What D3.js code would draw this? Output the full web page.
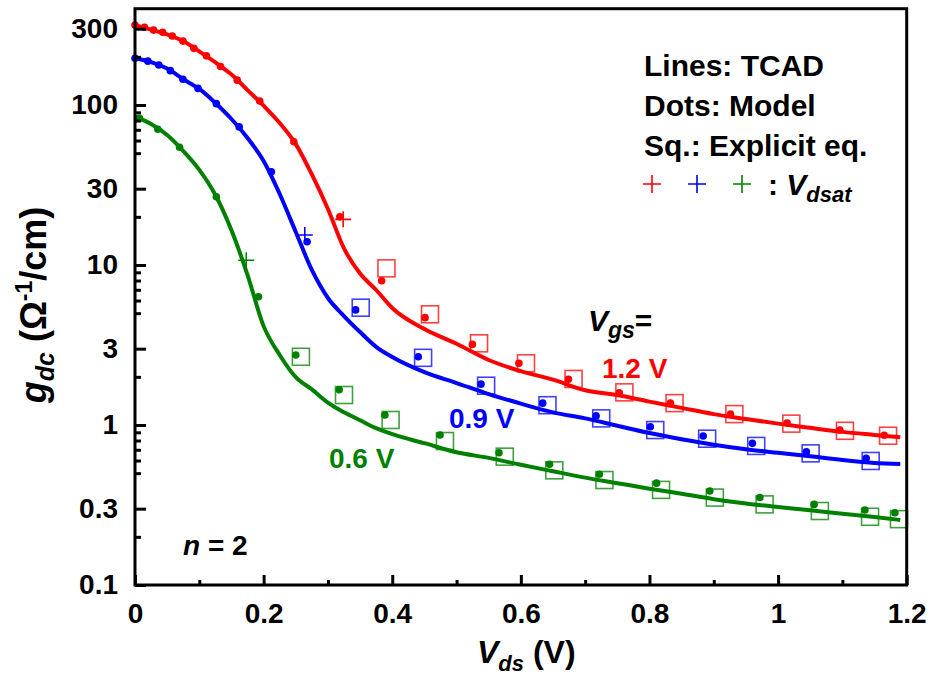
<!DOCTYPE html>
<html><head><meta charset="utf-8">
<script src="https://cdn.jsdelivr.net/npm/d3@7"></script>
<style>html,body{margin:0;padding:0;background:#fff}svg text{font-family:"Liberation Sans",Arial,sans-serif;font-weight:bold}</style>
</head><body>
<svg id="chart" width="933" height="676"></svg>
<script>
// ---------- data ----------
const seriesNames = ["1.2 V", "0.9 V", "0.6 V"];
const seriesColors = ["#ff0000", "#0000ff", "#008000"];

// TCAD lines (shared Vds grid)
const vdsGrid = [0, 0.025, 0.05, 0.075, 0.1, 0.125, 0.15, 0.175, 0.2, 0.225, 0.25, 0.275, 0.3, 0.325, 0.35, 0.375, 0.4, 0.45, 0.5, 0.55, 0.6, 0.65, 0.7, 0.75, 0.8, 0.85, 0.9, 0.95, 1.0, 1.05, 1.1, 1.15, 1.19];
const tcad12 = [316, 296, 276, 251, 216, 184.5, 155, 124, 99, 77.2, 57, 36.8, 22.4, 12.7, 8.84, 6.98, 5.39, 3.98, 3.22, 2.55, 2.17, 1.92, 1.65, 1.54, 1.40, 1.28, 1.17, 1.09, 1.02, 0.96, 0.906, 0.867, 0.838];
const tcad09 = [196, 185.6, 169, 145, 126, 103, 81.8, 62.2, 44.7, 27.8, 16.1, 9.31, 6.22, 4.8, 3.81, 3.08, 2.66, 2.14, 1.83, 1.56, 1.36, 1.20, 1.10, 0.99, 0.891, 0.815, 0.753, 0.705, 0.67, 0.637, 0.604, 0.579, 0.57];
const tcad06 = [84.5, 76, 65, 51.6, 39.3, 27.4, 16.5, 8.66, 4.15, 2.74, 1.99, 1.67, 1.38, 1.20, 1.07, 0.955, 0.876, 0.77, 0.675, 0.623, 0.564, 0.514, 0.469, 0.433, 0.40, 0.372, 0.344, 0.323, 0.307, 0.293, 0.279, 0.266, 0.255];

// Model (dots)
const model12Vds = [0, 0.0148, 0.0288, 0.043, 0.058, 0.0745, 0.0916, 0.111, 0.133, 0.159, 0.194, 0.247, 0.3185, 0.3835, 0.451, 0.5246, 0.597, 0.674, 0.753, 0.8326, 0.926, 1.014, 1.096, 1.165];
const model12G   = [316, 306, 294, 285, 270, 251, 226, 203, 174, 143, 106, 59, 20.0, 7.98, 4.69, 3.19, 2.43, 1.93, 1.59, 1.37, 1.17, 1.03, 0.93, 0.863];
const model09Vds = [0, 0.02, 0.037, 0.055, 0.0745, 0.098, 0.1265, 0.162, 0.212, 0.2676, 0.343, 0.4405, 0.538, 0.634, 0.717, 0.8014, 0.8835, 0.96, 1.044, 1.137];
const model09G   = [196, 188, 178, 164, 145, 127, 102, 73, 38.3, 13.98, 5.24, 2.67, 1.8, 1.37, 1.14, 0.976, 0.853, 0.768, 0.681, 0.619];
const model06Vds = [0.007, 0.0355, 0.0693, 0.1265, 0.192, 0.25, 0.3175, 0.3886, 0.4743, 0.566, 0.6446, 0.722, 0.811, 0.8938, 0.9717, 1.056, 1.135, 1.1815];
const model06G   = [82.6, 70.5, 54.5, 26.7, 6.34, 2.74, 1.66, 1.155, 0.866, 0.671, 0.568, 0.492, 0.433, 0.387, 0.352, 0.319, 0.294, 0.283];

// Explicit equation (squares)
const expl12Vds = [0.391, 0.4587, 0.535, 0.608, 0.682, 0.761, 0.839, 0.932, 1.0206, 1.104, 1.171];
const expl12G   = [9.53, 4.92, 3.24, 2.43, 1.94, 1.6, 1.37, 1.17, 1.02, 0.92, 0.857];
const expl09Vds = [0.351, 0.448, 0.546, 0.6414, 0.725, 0.809, 0.8897, 0.966, 1.0506, 1.144];
const expl09G   = [5.41, 2.63, 1.76, 1.33, 1.1, 0.93, 0.821, 0.74, 0.665, 0.596];
const expl06Vds = [0.258, 0.325, 0.3975, 0.482, 0.575, 0.652, 0.73, 0.818, 0.9016, 0.979, 1.065, 1.143, 1.188];
const expl06G   = [2.67, 1.54, 1.075, 0.794, 0.634, 0.521, 0.453, 0.393, 0.352, 0.319, 0.29, 0.267, 0.258];

// Vdsat markers
const vdsatVds = [0.3237, 0.264, 0.173];
const vdsatG   = [19.3, 15.4, 10.7];

// Axes ticks
const xTicksMajor = [0, 0.2, 0.4, 0.6, 0.8, 1, 1.2];
const xTicksMinor = [0.1, 0.3, 0.5, 0.7, 0.9, 1.1];
const yTicksMajor = [0.1, 0.3, 1, 3, 10, 30, 100, 300];
const yTickLabels = ["0.1", "0.3", "1", "3", "10", "30", "100", "300"];
const yTicksMinor = [0.2, 0.5, 0.6, 0.7, 0.8, 0.9, 2, 5, 6, 7, 8, 9, 20, 50, 60, 70, 80, 90, 200];

// ---------- drawing ----------
const svg = d3.select("#chart");
const L = 135, R = 906.7, T = 8.7, B = 585;
const x = d3.scaleLinear().domain([0, 1.2]).range([L, R]);
const y = d3.scaleLog().domain([0.1, 400]).range([B, T]);

const lines = [tcad12, tcad09, tcad06];
const models = [[model12Vds, model12G], [model09Vds, model09G], [model06Vds, model06G]];
const expls = [[expl12Vds, expl12G], [expl09Vds, expl09G], [expl06Vds, expl06G]];

const plot = svg.append("g");
const lineGen = d3.line().x((d, i) => x(vdsGrid[i])).y(d => y(d)).curve(d3.curveMonotoneX);
lines.forEach((s, k) => {
  plot.append("path").attr("d", lineGen(s)).attr("fill", "none")
    .attr("stroke", seriesColors[k]).attr("stroke-width", 4).attr("stroke-linejoin", "round");
});
expls.forEach(([vs, gs], k) => {
  plot.selectAll(null).data(vs).enter().append("rect")
    .attr("x", (d) => x(d) - 8.5).attr("y", (d, i) => y(gs[i]) - 8.5)
    .attr("width", 17).attr("height", 17).attr("fill", "none")
    .attr("stroke", seriesColors[k]).attr("stroke-opacity", 0.75).attr("stroke-width", 1.6);
});
models.forEach(([vs, gs], k) => {
  plot.selectAll(null).data(vs).enter().append("circle")
    .attr("cx", d => x(d)).attr("cy", (d, i) => y(gs[i])).attr("r", 3.8)
    .attr("fill", seriesColors[k]);
});
vdsatVds.forEach((v, k) => {
  const cx = x(v), cy = y(vdsatG[k]);
  plot.append("path").attr("d", `M${cx - 8},${cy}H${cx + 8}M${cx},${cy - 8}V${cy + 8}`)
    .attr("stroke", seriesColors[k]).attr("stroke-width", 1.6).attr("fill", "none");
});

// axes
const fmtY = d => yTickLabels[yTicksMajor.indexOf(d)];
svg.append("g").attr("transform", `translate(0,${B})`)
  .call(d3.axisBottom(x).tickValues(xTicksMajor).tickSize(-10).tickPadding(18).tickFormat(d => d3.format("~g")(d)));
svg.append("g").attr("transform", `translate(0,${B})`)
  .call(d3.axisBottom(x).tickValues(xTicksMinor).tickSize(-5).tickFormat(""));
svg.append("g").attr("transform", `translate(${L},0)`)
  .call(d3.axisLeft(y).tickValues(yTicksMajor).tickSize(-11).tickPadding(17).tickFormat(fmtY));
svg.append("g").attr("transform", `translate(${L},0)`)
  .call(d3.axisLeft(y).tickValues(yTicksMinor).tickSize(-6).tickFormat(""));
svg.selectAll(".domain").remove();
svg.selectAll(".tick line").attr("stroke", "#000").attr("stroke-width", 3);
svg.selectAll(".tick text").attr("fill", "#000").style("font-size", "28px")
  .style("font-family", '"Liberation Sans",Arial,sans-serif').style("font-weight", "bold");

// frame
svg.append("rect").attr("x", L).attr("y", T).attr("width", R - L).attr("height", B - T)
  .attr("fill", "none").attr("stroke", "#000").attr("stroke-width", 3);

// axis titles
const xt = svg.append("text").attr("x", 477).attr("y", 663).style("font-size", "32px");
xt.append("tspan").text("V").style("font-style", "italic");
xt.append("tspan").text("ds").style("font-style", "italic").style("font-size", "22px").attr("dy", 8);
xt.append("tspan").text(" (V)").attr("dy", -8);

const yt = svg.append("text").attr("transform", "translate(46,305) rotate(-90)")
  .attr("text-anchor", "middle").style("font-size", "36px");
yt.append("tspan").text("g").style("font-style", "italic");
yt.append("tspan").text("dc").style("font-style", "italic").style("font-size", "25px").attr("dy", 8);
yt.append("tspan").text(" (Ω").attr("dy", -8);
yt.append("tspan").text("-1").style("font-size", "23px").attr("dy", -14);
yt.append("tspan").text("/cm)").attr("dy", 14);

// legend text
const legendLines = ["Lines: TCAD", "Dots: Model", "Sq.: Explicit eq."];
legendLines.forEach((t, i) => {
  svg.append("text").attr("x", 644).attr("y", 76 + i * 40).style("font-size", "30px").text(t);
});
[652, 697, 742].forEach((cx, k) => {
  const cy = 184;
  svg.append("path").attr("d", `M${cx - 9},${cy}H${cx + 9}M${cx},${cy - 9}V${cy + 9}`)
    .attr("stroke", seriesColors[k]).attr("stroke-width", 1.6);
});
const lv = svg.append("text").attr("x", 768).attr("y", 195).style("font-size", "30px");
lv.append("tspan").text(": ");
lv.append("tspan").text("V").style("font-style", "italic");
lv.append("tspan").text("dsat").style("font-style", "italic").style("font-size", "22px").attr("dy", 7);

// Vgs annotations
const vg = svg.append("text").attr("x", 588).attr("y", 331).style("font-size", "30px");
vg.append("tspan").text("V").style("font-style", "italic");
vg.append("tspan").text("gs").style("font-style", "italic").style("font-size", "23px").attr("dy", 7);
vg.append("tspan").text("=").attr("dy", -7);

const annPos = [[602, 378], [449, 428], [329, 468]];
seriesNames.forEach((n, k) => {
  svg.append("text").attr("x", annPos[k][0]).attr("y", annPos[k][1])
    .style("font-size", "28px").attr("fill", seriesColors[k]).text(n);
});

const nt = svg.append("text").attr("x", 183).attr("y", 555).style("font-size", "28px");
nt.append("tspan").text("n").style("font-style", "italic");
nt.append("tspan").text(" = 2");
</script>
</body></html>
